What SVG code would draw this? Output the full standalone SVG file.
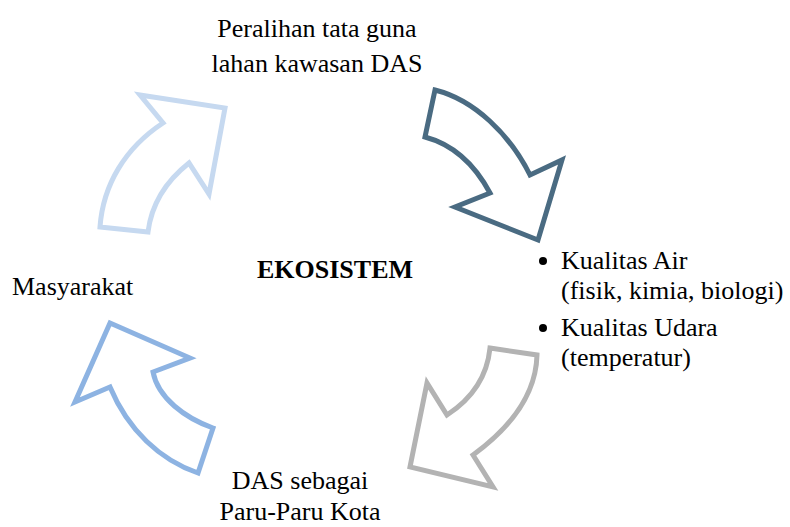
<svg xmlns="http://www.w3.org/2000/svg" width="790" height="527" viewBox="0 0 790 527">
<style>
.t{font-family:"Liberation Serif","Times New Roman",Tinos,"DejaVu Serif",serif;font-size:26px;font-weight:normal;fill:#000}
.b{font-weight:bold}
.arr{fill:#fff;stroke-width:5;stroke-linejoin:miter}
</style>
<rect width="790" height="527" fill="#fff"/>
<g id="connectors">
<path id="arrow1" class="arr" stroke="#c6d9f0" d="M140,95 L225,108 L209,194 L189,163 C170,178 152,200 148,232 L100,227 C103,185 125,148 163,123 Z"/>
<path id="arrow2" class="arr" stroke="#4a6b82" d="M435,90 C475,100 510,135 530,175 L562,160 L538,240 L455,207 L490,193 C475,165 455,145 425,137 Z"/>
<path id="arrow3" class="arr" stroke="#b3b3b3" d="M490,348 L537,355 C536,395 510,428 473,455 L493,487 L410,467 L427,383 L447,415 C470,400 487,378 490,348 Z"/>
<path id="arrow4" class="arr" stroke="#8db3e2" d="M110,323 L190,358 L153,372 C158,398 185,418 213,428 L198,473 C160,460 128,430 110,387 L75,402 Z"/>
</g>
<g id="node-peralihan">
<text class="t" font-family="Liberation Serif" x="317" y="37" text-anchor="middle">Peralihan tata guna</text>
<text class="t" font-family="Liberation Serif" x="317" y="72" text-anchor="middle">lahan kawasan DAS</text>
</g>
<g id="node-ekosistem">
<text class="t b" x="335" y="278" text-anchor="middle">EKOSISTEM</text>
</g>
<g id="node-masyarakat">
<text class="t" x="12" y="295">Masyarakat</text>
</g>
<g id="node-kualitas">
<circle cx="543" cy="261" r="4" fill="#000"/>
<text class="t" x="561" y="269">Kualitas Air</text>
<text class="t" x="561" y="299">(fisik, kimia, biologi)</text>
<circle cx="543" cy="328" r="4" fill="#000"/>
<text class="t" x="561" y="336">Kualitas Udara</text>
<text class="t" x="561" y="366">(temperatur)</text>
</g>
<g id="node-das">
<text class="t" x="300" y="489" text-anchor="middle">DAS sebagai</text>
<text class="t" x="300" y="520" text-anchor="middle">Paru-Paru Kota</text>
</g>
</svg>
